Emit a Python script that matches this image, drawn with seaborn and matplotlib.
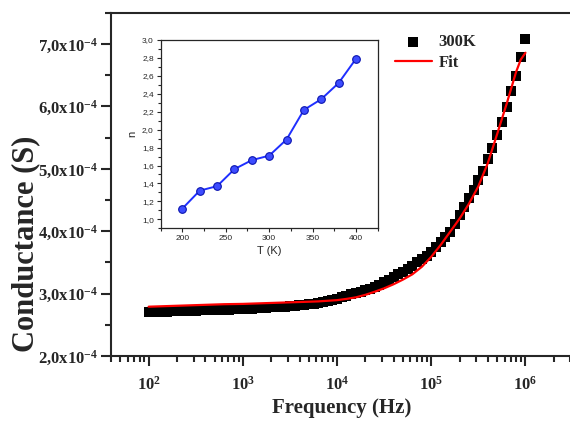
import numpy as np
import pandas as pd
import seaborn as sns
import matplotlib
matplotlib.use("Agg")
import matplotlib.pyplot as plt
from matplotlib.ticker import FixedLocator, FuncFormatter, MultipleLocator, LogLocator, NullFormatter

# main curve: conductance vs frequency at 300K (log10 of f in Hz, G in 1e-4 S)
log_f = [2.00, 2.05, 2.10, 2.15, 2.20, 2.25, 2.30, 2.35, 2.40, 2.45,
         2.50, 2.55, 2.60, 2.65, 2.70, 2.75, 2.80, 2.85, 2.90, 2.95,
         3.00, 3.05, 3.10, 3.15, 3.20, 3.25, 3.30, 3.35, 3.40, 3.45,
         3.50, 3.55, 3.60, 3.65, 3.70, 3.75, 3.80, 3.85, 3.90, 3.95,
         4.00, 4.05, 4.10, 4.15, 4.20, 4.25, 4.30, 4.35, 4.40, 4.45,
         4.50, 4.55, 4.60, 4.65, 4.70, 4.75, 4.80, 4.85, 4.90, 4.95,
         5.00, 5.05, 5.10, 5.15, 5.20, 5.25, 5.30, 5.35, 5.40, 5.45,
         5.50, 5.55, 5.60, 5.65, 5.70, 5.75, 5.80, 5.85, 5.90, 5.95,
         6.00]
G_300K = [2.700, 2.700, 2.705, 2.710, 2.710, 2.715, 2.715, 2.720, 2.720, 2.725,
          2.725, 2.730, 2.730, 2.735, 2.735, 2.740, 2.740, 2.745, 2.750, 2.750,
          2.755, 2.760, 2.760, 2.765, 2.770, 2.775, 2.780, 2.780, 2.785, 2.790,
          2.795, 2.800, 2.810, 2.820, 2.830, 2.840, 2.850, 2.865, 2.880, 2.900,
          2.920, 2.940, 2.965, 2.990, 3.010, 3.030, 3.050, 3.080, 3.110, 3.140,
          3.180, 3.220, 3.260, 3.310, 3.350, 3.400, 3.450, 3.500, 3.550, 3.610,
          3.670, 3.740, 3.820, 3.900, 3.990, 4.120, 4.260, 4.390, 4.530, 4.660,
          4.820, 4.970, 5.150, 5.330, 5.540, 5.750, 5.990, 6.240, 6.490, 6.790,
          7.080]

# fitted curve
log_f_fit = [2.0, 2.2, 2.4, 2.6, 2.8, 3.0, 3.2, 3.4, 3.6, 3.8, 4.0, 4.1, 4.2, 4.3,
             4.4, 4.5, 4.6, 4.7, 4.8, 4.9, 5.0, 5.1, 5.2, 5.3, 5.4, 5.5, 5.6, 5.7,
             5.8, 5.9, 5.95, 6.0]
G_fit = [2.790, 2.800, 2.810, 2.820, 2.830, 2.835, 2.845, 2.855, 2.865, 2.875,
         2.895, 2.915, 2.940, 2.980, 3.030, 3.085, 3.150, 3.225, 3.310, 3.430,
         3.590, 3.780, 3.990, 4.200, 4.440, 4.720, 5.090, 5.560, 6.040, 6.550,
         6.750, 6.860]

# inset: exponent n vs temperature
T_K = [200, 220, 240, 260, 280, 300, 320, 340, 360, 380, 400]
n_exp = [1.12, 1.32, 1.37, 1.56, 1.66, 1.71, 1.89, 2.22, 2.34, 2.52, 2.79]

data = pd.DataFrame({'Frequency': 10 ** np.array(log_f), 'G': np.array(G_300K) * 1e-4})
fit = pd.DataFrame({'Frequency': 10 ** np.array(log_f_fit), 'G': np.array(G_fit) * 1e-4})
inset = pd.DataFrame({'T': T_K, 'n': n_exp})

sns.set_style("ticks")
plt.rcParams['font.family'] = ['Liberation Serif', 'DejaVu Serif']
plt.rcParams['font.weight'] = 'bold'
plt.rcParams['mathtext.fontset'] = 'custom'
plt.rcParams['mathtext.rm'] = 'Liberation Serif:bold'
plt.rcParams['mathtext.it'] = 'Liberation Serif:bold'
plt.rcParams['mathtext.bf'] = 'Liberation Serif:bold'

fig = plt.figure(figsize=(5.7, 4.23), dpi=100)
ax = fig.add_axes([0.1947, 0.1584, 0.8098, 0.8113])

sns.scatterplot(data=data, x='Frequency', y='G', ax=ax, marker='s', s=48, color='black',
                linewidth=0, label='300K', zorder=2)
sns.lineplot(data=fit, x='Frequency', y='G', ax=ax, color='red', linewidth=1.6,
             label='Fit', zorder=3)

ax.set_xscale('log')
ax.set_xlim(10 ** 1.6, 10 ** 6.5)
ax.set_ylim(2.0e-4, 7.5e-4)
ax.xaxis.set_major_locator(LogLocator(base=10, numticks=10))
ax.xaxis.set_minor_locator(LogLocator(base=10, subs=np.arange(2, 10), numticks=20))
ax.xaxis.set_minor_formatter(NullFormatter())
ax.xaxis.set_major_formatter(FuncFormatter(lambda v, p: r'10$^{%d}$' % round(np.log10(v))))
ax.yaxis.set_major_locator(MultipleLocator(1e-4))
ax.yaxis.set_minor_locator(MultipleLocator(0.5e-4))
ax.yaxis.set_major_formatter(FuncFormatter(
    lambda v, p: (r'%.1fx10$^{-4}$' % (v * 1e4)).replace('.', ',')))
ax.tick_params(axis='both', which='major', direction='out', length=7.5, width=1.5,
               labelsize=12, top=False, right=False)
ax.tick_params(axis='both', which='minor', direction='out', length=4, width=1.5,
               top=False, right=False)
ax.tick_params(axis='x', which='major', pad=7)
ax.tick_params(axis='y', which='major', pad=1.5)
for sp in ax.spines.values():
    sp.set_linewidth(1.5)
ax.set_xlabel('Frequency (Hz)', fontsize=15, fontweight='bold', labelpad=3)
ax.set_ylabel('Conductance (S)', fontsize=22, fontweight='bold')
ax.yaxis.set_label_coords(-0.153, 0.327)

handles, labels = ax.get_legend_handles_labels()
ax.legend(handles, labels, loc='upper left', bbox_to_anchor=(395 / 570, 1 - 34 / 423),
          bbox_transform=fig.transFigure, frameon=False, fontsize=12, handlelength=2.2,
          borderpad=0, borderaxespad=0, labelspacing=0.3, handletextpad=0.4,
          prop={'family': 'Liberation Serif', 'weight': 'bold', 'size': 12})

# inset
axi = fig.add_axes([0.2819, 0.4603, 0.3807, 0.4452])
sns.lineplot(data=inset, x='T', y='n', ax=axi, color='#1f2fff', linewidth=1.4,
             marker='o', markersize=5.5, markerfacecolor='#3d4cff',
             markeredgecolor='#0a14b0', markeredgewidth=0.8)
axi.set_xlim(175, 425)
axi.set_ylim(0.9, 3.0)
axi.xaxis.set_major_locator(MultipleLocator(50))
axi.xaxis.set_minor_locator(MultipleLocator(25))
axi.yaxis.set_major_locator(FixedLocator([1.0, 1.2, 1.4, 1.6, 1.8, 2.0, 2.2, 2.4, 2.6, 2.8, 3.0]))
axi.yaxis.set_minor_locator(MultipleLocator(0.1))
axi.yaxis.set_major_formatter(FuncFormatter(lambda v, p: ('%.1f' % v).replace('.', ',')))
axi.tick_params(axis='both', which='major', direction='out', length=3, width=0.8,
                labelsize=6, pad=2)
axi.tick_params(axis='both', which='minor', direction='out', length=2, width=0.8)
for lab in axi.get_xticklabels() + axi.get_yticklabels():
    lab.set_family('Liberation Sans')
    lab.set_fontweight('normal')
for sp in axi.spines.values():
    sp.set_linewidth(0.9)
axi.set_xlabel('T (K)', fontsize=8, family='Liberation Sans', fontweight='normal', labelpad=3)
axi.set_ylabel('n', fontsize=8, family='Liberation Sans', fontweight='normal', labelpad=3)

fig.savefig('out.png', dpi=100)
